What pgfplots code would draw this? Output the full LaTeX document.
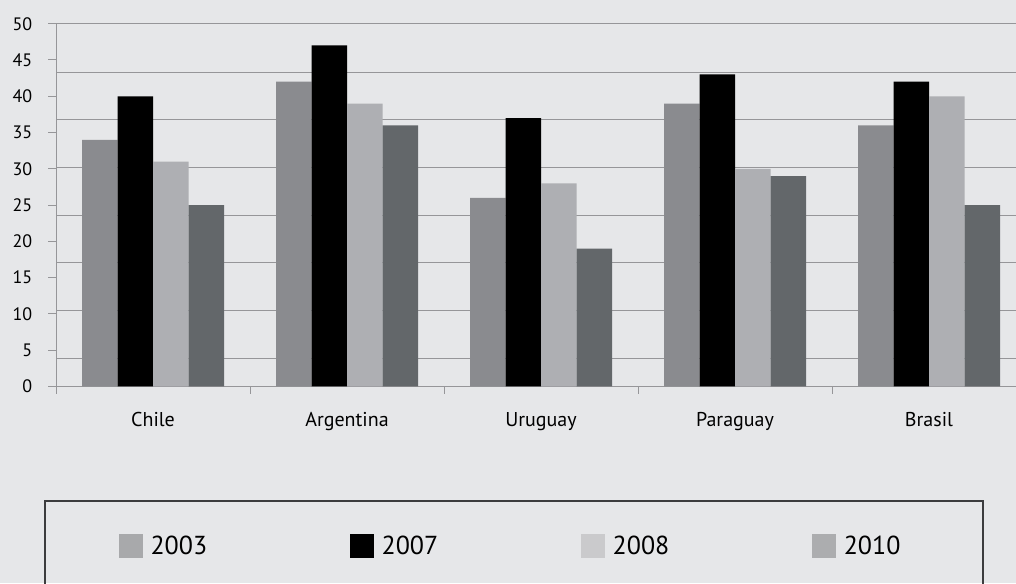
\documentclass[border=0pt]{standalone}
\usepackage{pgfplots}
\pgfplotsset{compat=1.18}
\usepackage{fontspec}
\setmainfont{PT Sans}
\definecolor{bg}{RGB}{230,231,233}
\definecolor{gridc}{RGB}{150,150,153}
\definecolor{framec}{RGB}{60,60,62}
\definecolor{c03}{RGB}{138,139,143}
\definecolor{c07}{RGB}{0,0,0}
\definecolor{c08}{RGB}{174,175,179}
\definecolor{c10}{RGB}{99,103,106}
\definecolor{l03}{RGB}{168,169,171}
\definecolor{l08}{RGB}{202,202,204}
\definecolor{l10}{RGB}{172,173,175}
\begin{document}
\begin{tikzpicture}[x=1pt,y=1pt]
\useasboundingbox (0,0) rectangle (1016,583);
\fill[bg] (0,0) rectangle (1016,583);
\clip (0,0) rectangle (1016,583);
\begin{axis}[
  at={(56pt,196.5pt)}, anchor=south west,
  scale only axis, width=960pt, height=362.8pt,
  ymin=0, ymax=50, xmin=-0.5, xmax=4.4485,
  ybar, bar width=35.5pt,
  axis x line*=bottom, axis y line*=left,
  axis line style={draw=gridc, line width=1pt, -},
  tick align=outside,
  major tick length=7.5pt,
  tick style={draw=gridc, line width=1pt},
  ytick={0,5,...,50},
  y tick label style={font=\fontsize{18}{20}\selectfont, inner sep=0pt, xshift=-16pt},
  /pgf/number format/assume math mode=true,
  extra y ticks={3.88,10.5,17.05,23.62,30.19,36.8,43.32,50},
  extra y tick labels={},
  extra y tick style={major tick length=0pt, grid=major},
  major grid style={draw=gridc, line width=1pt},
  xtick={-0.5,0.5,1.5,2.5,3.5},
  xticklabels={},
  extra x ticks={0,1,2,3,4},
  extra x tick labels={Chile,Argentina,Uruguay,Paraguay,Brasil},
  extra x tick style={major tick length=0pt},
  x tick label style={font=\fontsize{20}{22}\selectfont, anchor=base, yshift=-40pt},
  legend columns=4,
  legend style={at={(0.0656,-0.4383)}, anchor=west, draw=none, fill=none, inner sep=0pt,
    font=\fontsize{26}{30}\selectfont,
    nodes={inner sep=0pt},
    /tikz/every even column/.append style={column sep=143pt},
    /tikz/every odd column/.append style={column sep=8pt}},
]
\addplot[fill=c03, draw=none, forget plot, bar shift=-53.25pt] coordinates {(0,34) (1,42) (2,26) (3,39) (4,36)};
\addplot[fill=c07, draw=none, forget plot, bar shift=-17.75pt] coordinates {(0,40) (1,47) (2,37) (3,43) (4,42)};
\addplot[fill=c08, draw=none, forget plot, bar shift=17.75pt] coordinates {(0,31) (1,39) (2,28) (3,30) (4,40)};
\addplot[fill=c10, draw=none, forget plot, bar shift=53.25pt] coordinates {(0,25) (1,36) (2,19) (3,29) (4,25)};
\addlegendimage{legend image code/.code={\fill[l03] (0pt,-11.5pt) rectangle (23pt,11.5pt);}}
\addlegendentry{2003}
\addlegendimage{legend image code/.code={\fill[c07] (0pt,-11.5pt) rectangle (23pt,11.5pt);}}
\addlegendentry{2007}
\addlegendimage{legend image code/.code={\fill[l08] (0pt,-11.5pt) rectangle (23pt,11.5pt);}}
\addlegendentry{2008}
\addlegendimage{legend image code/.code={\fill[l10] (0pt,-11.5pt) rectangle (23pt,11.5pt);}}
\addlegendentry{2010}
\end{axis}
\draw[framec, line width=1.2pt] (45,82) rectangle (983,-10);
\end{tikzpicture}
\end{document}
